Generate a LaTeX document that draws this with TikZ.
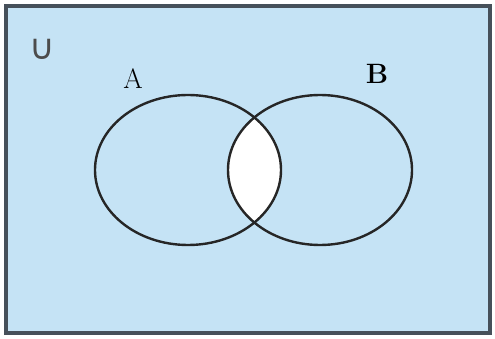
\documentclass[tikz,border=0pt]{standalone}
\usepackage{fontspec}
\newfontfamily\symfont{DejaVu Sans}
\begin{document}
\begin{tikzpicture}[x=1pt,y=-1pt,
  setline/.style={line width=2.4pt, draw=black!85},
  lab/.style={font=\fontsize{28}{30}\selectfont, inner sep=0pt}]
\useasboundingbox (0,0) rectangle (495,339);
\fill[white] (0,0) rectangle (495,339);
\draw[fill={rgb,255:red,197;green,227;blue,245}, draw={rgb,255:red,70;green,80;blue,90}, line width=4pt] (6,6) rectangle (490,333);
\begin{scope}
  \clip (188,170) ellipse [x radius=93, y radius=75];
  \fill[white] (320,170) ellipse [x radius=92, y radius=75];
\end{scope}
\draw[setline] (188,170) ellipse [x radius=93, y radius=75];
\draw[setline] (320,170) ellipse [x radius=92, y radius=75];
\node[lab] (labA) at (133,79) {A};
\node[lab] (labB) at (377,74) {\textbf{B}};
\node[inner sep=0pt, text=black!70, font=\symfont\fontsize{35}{37}\selectfont] (univ) at (42,49) {∪};
\end{tikzpicture}
\end{document}
